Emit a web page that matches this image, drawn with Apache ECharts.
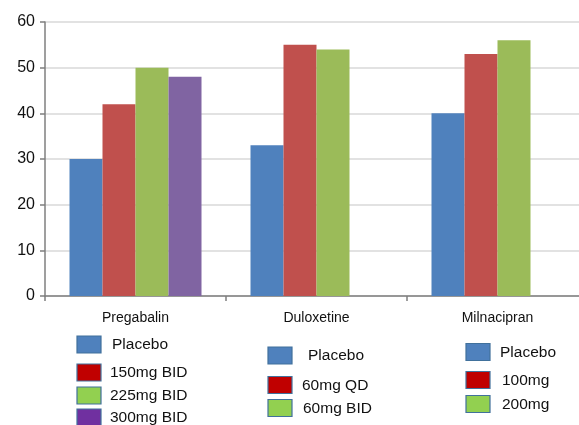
<!DOCTYPE html>
<html>
<head>
<meta charset="utf-8">
<script src="https://cdn.jsdelivr.net/npm/echarts@6/dist/echarts.min.js"></script>
<style>html,body{margin:0;padding:0;background:#fff;overflow:hidden;width:579px;height:425px;}#c{width:589px;height:425px;}</style>
</head>
<body>
<div id="c"></div>
<script>
var categories = ['Pregabalin', 'Duloxetine', 'Milnacipran'];
var seriesPlacebo = [30, 33, 40];
var seriesDose1 = [42, 55, 53];
var seriesDose2 = [50, 54, 56];
var seriesDose3 = [48, null, null];
var yTicks = [0, 10, 20, 30, 40, 50, 60];

var legendPregabalin = ['Placebo', '150mg BID', '225mg BID', '300mg BID'];
var legendDuloxetine = ['Placebo', '60mg QD', '60mg BID'];
var legendMilnacipran = ['Placebo', '100mg', '200mg'];

var barColors = ['#4F81BD', '#C0504D', '#9BBB59', '#8064A2'];
var swatchColors = ['#4F81BD', '#C00000', '#92D050', '#7030A0'];

// legend block layout (pixel positions for the hand-drawn legend boxes)
var legendBlocks = [
  {labels: legendPregabalin, sx: 77, tx: [112, 110, 110, 110], ys: [345, 373, 396, 418]},
  {labels: legendDuloxetine, sx: 268, tx: [308, 302, 303], ys: [356, 385.5, 408.5]},
  {labels: legendMilnacipran, sx: 466, tx: [500, 502, 502], ys: [352.5, 380.5, 404.5]}
];

var graphics = [];
legendBlocks.forEach(function (b) {
  b.labels.forEach(function (lab, i) {
    graphics.push({
      type: 'rect',
      shape: {x: b.sx, y: b.ys[i] - 9, width: 24, height: 17},
      style: {fill: swatchColors[i], stroke: '#41719C', lineWidth: 1.2}
    });
    graphics.push({
      type: 'text',
      x: b.tx[i], y: b.ys[i],
      style: {text: lab, font: '15.5px "Liberation Sans", Arial, sans-serif', fill: '#111', textVerticalAlign: 'middle', verticalAlign: 'middle'}
    });
  });
});

var names = ['Placebo', 'Dose 1', 'Dose 2', 'Dose 3'];
var datas = [seriesPlacebo, seriesDose1, seriesDose2, seriesDose3];

var chart = echarts.init(document.getElementById('c'));
chart.setOption({
  animation: false,
  backgroundColor: '#fff',
  grid: {left: 45, top: 22, right: 1, bottom: 129, containLabel: false},
  xAxis: {
    type: 'category',
    data: categories,
    axisLine: {lineStyle: {color: '#7F7F7F', width: 1.5}},
    axisTick: {show: true, length: 5, interval: 0, lineStyle: {color: '#7F7F7F', width: 1.5}},
    axisLabel: {margin: 15, fontSize: 14, color: '#111', fontFamily: '"Liberation Sans", Arial, sans-serif'},
    splitLine: {show: false}
  },
  yAxis: {
    type: 'value',
    min: yTicks[0], max: yTicks[yTicks.length - 1], interval: 10,
    axisLine: {show: true, lineStyle: {color: '#7F7F7F', width: 1.5}},
    axisTick: {show: true, length: 5, lineStyle: {color: '#7F7F7F', width: 1.5}},
    axisLabel: {margin: 10, fontSize: 16, color: '#111', fontFamily: '"Liberation Sans", Arial, sans-serif'},
    splitLine: {show: true, lineStyle: {color: '#D9D9D9', width: 1.5}}
  },
  series: datas.map(function (d, i) {
    return {
      name: names[i], type: 'bar', data: d,
      barWidth: 33, barGap: '0%',
      itemStyle: {color: barColors[i]}
    };
  }),
  graphic: graphics
});
</script>
</body>
</html>
